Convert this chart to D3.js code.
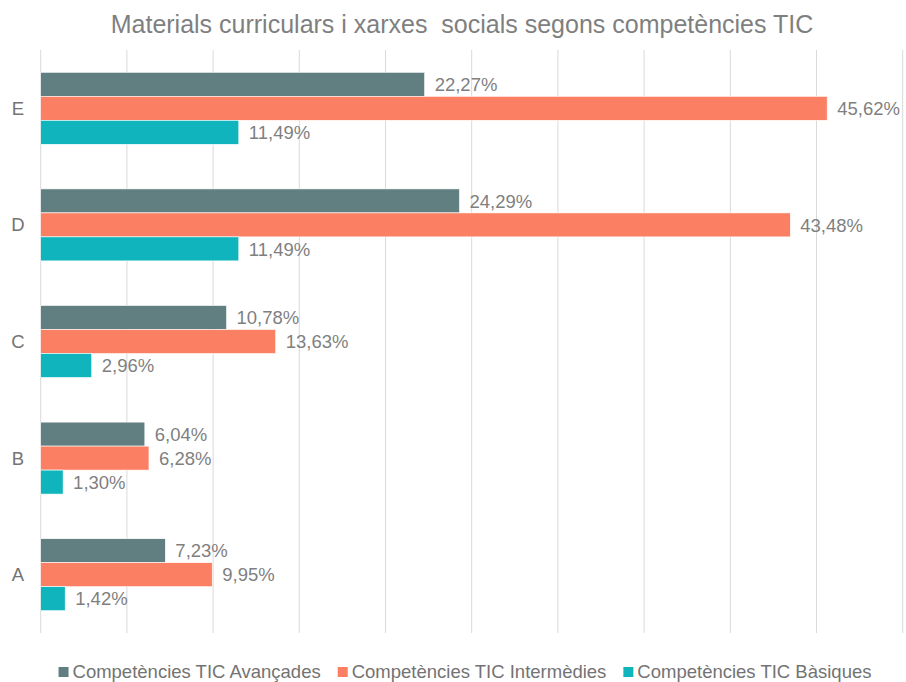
<!DOCTYPE html>
<html>
<head>
<meta charset="utf-8">
<script src="https://cdn.jsdelivr.net/npm/d3@7"></script>
<style>
  body { margin: 0; background: #fff; }
  text { font-family: "Liberation Sans", Arial, sans-serif; }
</style>
</head>
<body>
<div id="chart"></div>
<script>
var categories = ['E', 'D', 'C', 'B', 'A'];
var series = ['Competències TIC Avançades', 'Competències TIC Intermèdies', 'Competències TIC Bàsiques'];
var avancades = [22.27, 24.29, 10.78, 6.04, 7.23];
var intermedies = [45.62, 43.48, 13.63, 6.28, 9.95];
var basiques = [11.49, 11.49, 2.96, 1.30, 1.42];
var gridTicks = [0, 5, 10, 15, 20, 25, 30, 35, 40, 45, 50];
var colors = ['#617f81', '#fb8063', '#10b4bc'];

var W = 906, H = 682;
var values = [avancades, intermedies, basiques];

var svg = d3.select('#chart').append('svg')
  .attr('width', W).attr('height', H);

var xS = d3.scaleLinear().domain([0, 50]).range([40.7, 902.7]);
var yS = d3.scaleBand().domain(categories).range([50, 633]).paddingInner(0);
var y1 = d3.scaleBand().domain(series).range([0, yS.bandwidth()]).paddingOuter(0.93);

// title
svg.append('text')
  .attr('x', 462).attr('y', 33)
  .attr('text-anchor', 'middle')
  .style('font-family', '"Liberation Sans Narrow", "Liberation Sans", sans-serif')
  .style('font-size', '25px')
  .style('fill', '#7f7f7f')
  .style('white-space', 'pre')
  .attr('xml:space', 'preserve')
  .text('Materials curriculars i xarxes  socials segons competències TIC');

// gridlines
svg.append('g').selectAll('line')
  .data(gridTicks).enter().append('line')
  .attr('x1', function(d) { return xS(d); })
  .attr('x2', function(d) { return xS(d); })
  .attr('y1', 50).attr('y2', 633)
  .style('stroke', '#d9d9d9').style('stroke-width', 1);

// category labels
svg.append('g').selectAll('text')
  .data(categories).enter().append('text')
  .attr('x', 18)
  .attr('y', function(d) { return yS(d) + yS.bandwidth() / 2; })
  .attr('dy', '0.35em')
  .attr('text-anchor', 'middle')
  .style('font-size', '18.5px')
  .style('fill', '#737373')
  .text(function(d) { return d; });

// bars
series.forEach(function(s, si) {
  var g = svg.append('g');
  g.selectAll('rect')
    .data(values[si]).enter().append('rect')
    .attr('x', xS(0))
    .attr('y', function(d, i) { return yS(categories[i]) + y1(s); })
    .attr('width', function(d) { return xS(d) - xS(0); })
    .attr('height', y1.bandwidth())
    .style('fill', colors[si])
    .style('stroke', '#fff').style('stroke-width', 0.6);
  g.selectAll('text')
    .data(values[si]).enter().append('text')
    .attr('x', function(d) { return xS(d) + 10; })
    .attr('y', function(d, i) { return yS(categories[i]) + y1(s) + y1.bandwidth() / 2; })
    .attr('dy', '0.36em')
    .style('font-size', '18.5px')
    .style('fill', '#7f7f7f')
    .text(function(d) { return d.toFixed(2).replace('.', ',') + '%'; });
});

// legend
var legend = svg.append('g');
var lx = 0;
series.forEach(function(s, si) {
  var item = legend.append('g').attr('transform', 'translate(' + lx + ',0)');
  item.append('rect').attr('x', 0).attr('y', -5).attr('width', 10).attr('height', 10)
    .style('fill', colors[si]);
  var t = item.append('text').attr('x', 14).attr('y', 0).attr('dy', '0.35em')
    .style('font-size', '18.5px').style('fill', '#737373').text(s);
  lx += 14 + t.node().getComputedTextLength() + 17;
});
var lw = lx - 17;
legend.attr('transform', 'translate(' + (465 - lw / 2) + ',672)');
</script>
</body>
</html>
